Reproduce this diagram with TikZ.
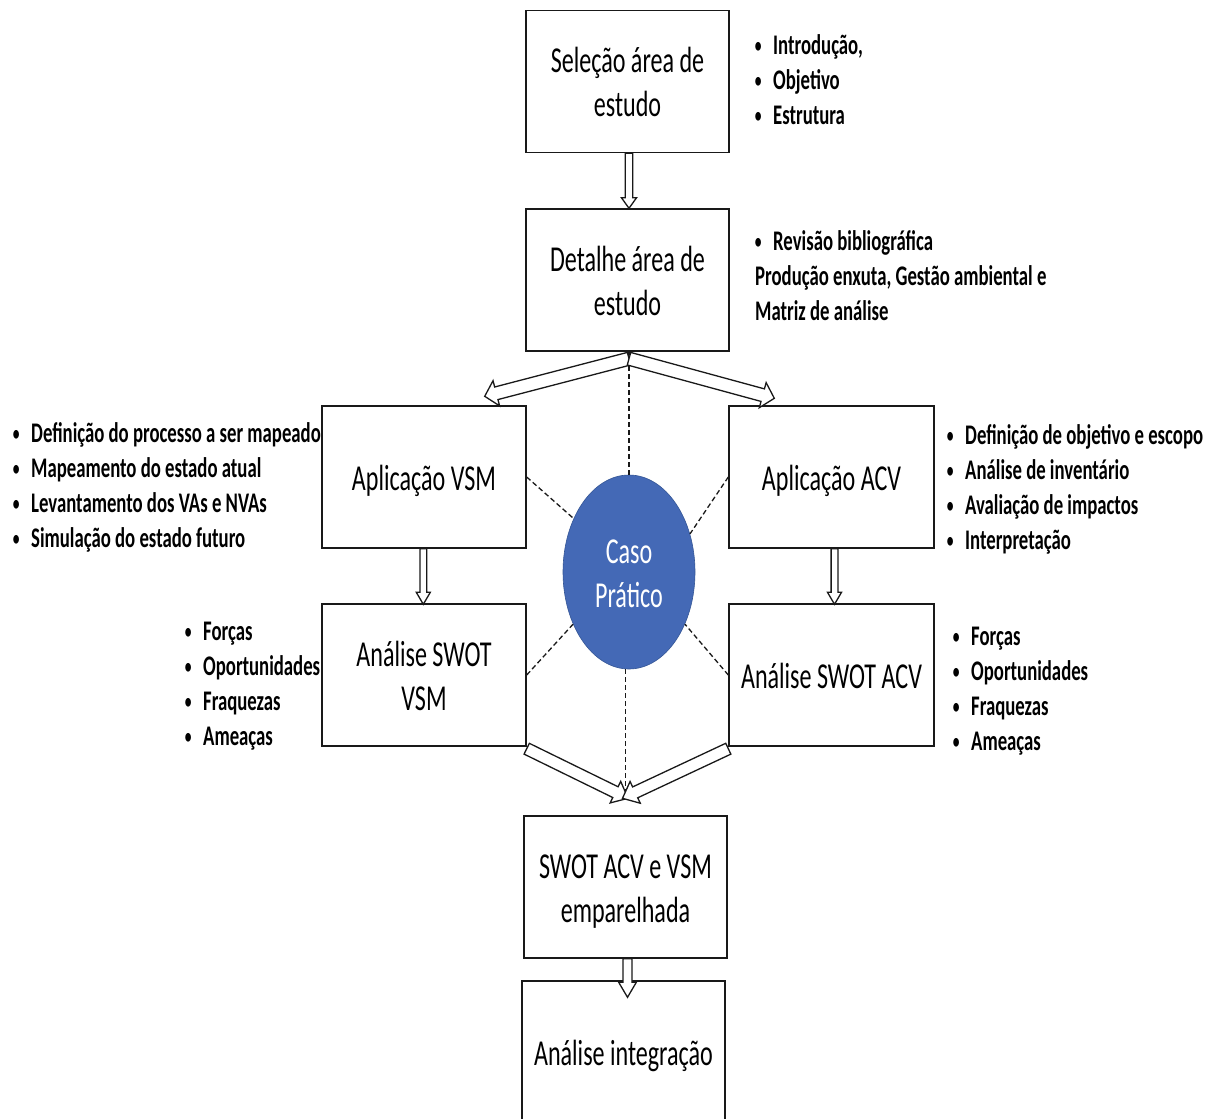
\documentclass[tikz,border=0pt]{standalone}
\usepackage{fontspec}
\setmainfont{Carlito}[FakeStretch=0.66]
\usetikzlibrary{calc,shapes.geometric}

\definecolor{casoblue}{RGB}{68,105,182}
\definecolor{casoedge}{RGB}{52,86,150}

% bullet hung to the left of the item text
\newcommand\itm{\makebox[0pt][r]{\makebox[30pt][c]{\raisebox{1.5pt}{\scalebox{0.72}{•}}}}}
% line strut for the stage texts (sits the line slightly low)
\newcommand\bs{\rule[-9pt]{0pt}{44pt}}
\newcommand\boxsize{\fontsize{36.5}{44}\selectfont}
\newcommand\listsize{\fontsize{28.4}{35}\selectfont\bfseries}

% hollow block arrow: from, to, shaft half width, head half width, head length
\newcommand\hollowarrow[5]{%
  \coordinate (ha-h) at ($(#2)!#5!(#1)$);
  \path[hollow] ($(#1)!#3!90:(#2)$) -- ($(ha-h)!#3!90:(#2)$)
    -- ($(ha-h)!#4!90:(#2)$) -- (#2) -- ($(ha-h)!#4!-90:(#2)$)
    -- ($(ha-h)!#3!-90:(#2)$) -- ($(#1)!#3!-90:(#2)$) -- cycle;
}

\tikzset{
  stage/.style={draw=black!90, line width=1.4pt, fill=white, inner sep=0pt,
    minimum width=203pt, minimum height=142pt, align=center, font=\boxsize},
  listtxt/.style={anchor=north west, inner sep=0pt, align=left, font=\listsize},
  hollow/.style={draw=black!90, fill=white, line width=1.3pt, line join=miter},
  dashline/.style={draw=black!90, line width=1.3pt, dash pattern=on 5pt off 3pt},
}

\begin{document}
\begin{tikzpicture}[x=1pt, y=-1pt]
\useasboundingbox (0,0) rectangle (1216,1119);
\fill[white] (0,0) rectangle (1216,1119);

% stages
\node[stage] (box1) at (627.5,81.5) {\bs Seleção área de\\\bs estudo};
\node[stage] (box2) at (627.5,280) {\bs Detalhe área de\\\bs estudo};
\node[stage, minimum width=204pt] (vsm) at (424,477) {\bs Aplicação VSM};
\node[stage, minimum width=205pt] (acv) at (831.5,477) {\bs Aplicação ACV};
\node[stage, minimum width=204pt] (swotvsm) at (424,675) {\bs Análise SWOT\\\bs VSM};
\node[stage, minimum width=205pt] (swotacv) at (831.5,675) {\bs Análise SWOT ACV};
\node[stage] (empar) at (625.5,887) {\bs SWOT ACV e VSM\\\bs emparelhada};
\node[stage, minimum height=143pt] (integ) at (623.5,1052.5) {\bs Análise integração};

% central case
\node[ellipse, fill=casoblue, draw=casoedge, line width=0.6pt, inner sep=0pt,
  minimum width=132pt, minimum height=194pt, align=center, font=\boxsize,
  text=white] (caso) at (629,572) {\bs Caso\\\bs Prático};

% dashed links to the case
\coordinate (meet) at ($(empar.north)+(0,-17)$);
\draw[dashline] (caso.north) -- (caso.north |- box2.south);
\draw[dashline] (vsm.east) -- (caso.136.6);
\draw[dashline] (acv.west) -- (caso.32);
\draw[dashline] (swotvsm.east) -- (caso.223);
\draw[dashline] (swotacv.west) -- (caso.317);
\draw[dashline] (meet |- caso.south) -- (meet);

% flow arrows
\coordinate (a1s) at ($(box1.south)+(1.5,0)$);
\coordinate (a1e) at ($(box2.north)+(1.5,0)$);
\hollowarrow{a1s}{a1e}{3.8pt}{7.5pt}{10.5pt}

\coordinate (a2s) at ($(box2.south)+(1.5,7)$);
\coordinate (a2l) at ($(vsm.north east)+(-42,-9)$);
\coordinate (a2r) at ($(acv.north west)+(46,-7)$);
\hollowarrow{a2s}{a2l}{6.5pt}{13pt}{12pt}
\hollowarrow{a2s}{a2r}{6.5pt}{13pt}{12pt}

\coordinate (a3s) at ($(vsm.south)+(-0.7,0)$);
\coordinate (a3e) at ($(swotvsm.north)+(-0.7,1)$);
\hollowarrow{a3s}{a3e}{3.4pt}{7pt}{12pt}

\coordinate (a4s) at ($(acv.south)+(3,0)$);
\coordinate (a4e) at ($(swotacv.north)+(3,1)$);
\hollowarrow{a4s}{a4e}{3.4pt}{7pt}{12pt}

\coordinate (a5s) at ($(swotvsm.south east)+(0,2)$);
\coordinate (a5e) at ($(empar.north)+(2.5,-17)$);
\coordinate (a6s) at ($(swotacv.south west)+(0,2)$);
\coordinate (a6e) at ($(empar.north)+(-3,-17)$);
\hollowarrow{a5s}{a5e}{6pt}{12pt}{14pt}
\hollowarrow{a6s}{a6e}{6pt}{12pt}{14pt}

\coordinate (a7s) at ($(empar.south)+(2,0)$);
\coordinate (a7e) at ($(integ.north)+(4,17)$);
\hollowarrow{a7s}{a7e}{4.5pt}{8.8pt}{15pt}

% side notes
\node[listtxt] (lst1) at (773,29.5)
  {\strut\itm Introdução,\\\strut\itm Objetivo\\\strut\itm Estrutura};
\node[listtxt] (lst2) at (755,225.5)
  {\strut\hspace*{18pt}\itm Revisão bibliográfica\\
   \strut Produção enxuta, Gestão ambiental e\\\strut Matriz de análise};
\node[listtxt] (lst3) at (31,417.5)
  {\strut\itm Definição do processo a ser mapeado\\
   \strut\itm Mapeamento do estado atual\\
   \strut\itm Levantamento dos VAs e NVAs\\
   \strut\itm Simulação do estado futuro};
\node[listtxt] (lst4) at (965,419.5)
  {\strut\itm Definição de objetivo e escopo\\
   \strut\itm Análise de inventário\\
   \strut\itm Avaliação de impactos\\
   \strut\itm Interpretação};
\node[listtxt] (lst5) at (203,615.5)
  {\strut\itm Forças\\\strut\itm Oportunidades\\\strut\itm Fraquezas\\\strut\itm Ameaças};
\node[listtxt] (lst6) at (971,620.5)
  {\strut\itm Forças\\\strut\itm Oportunidades\\\strut\itm Fraquezas\\\strut\itm Ameaças};
\end{tikzpicture}
\end{document}
